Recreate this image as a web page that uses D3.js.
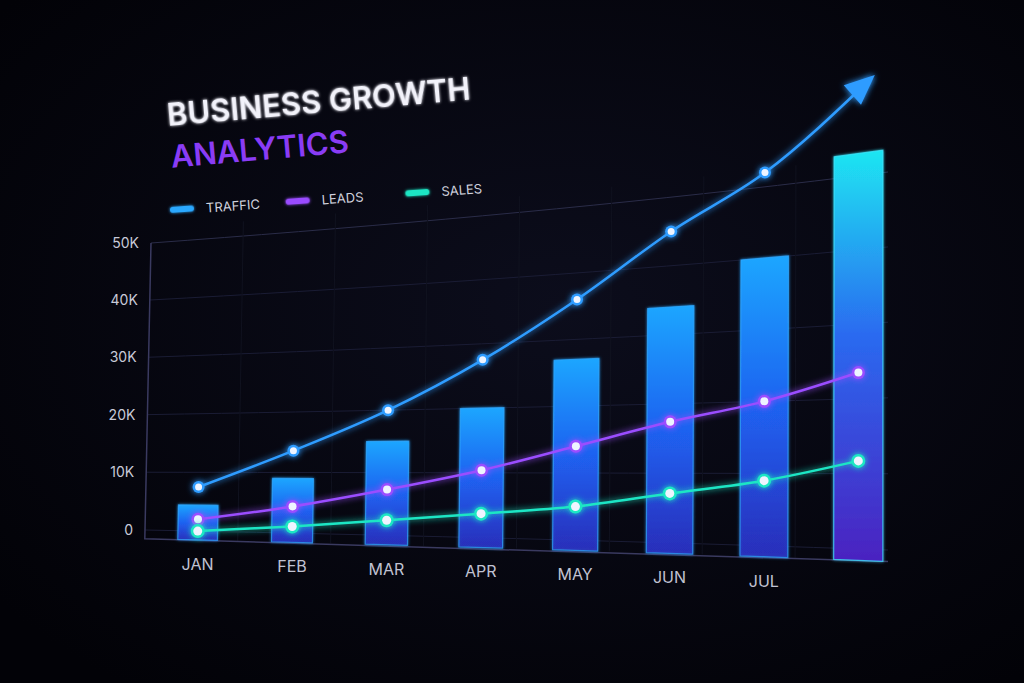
<!DOCTYPE html>
<html><head><meta charset="utf-8">
<script src="https://cdn.jsdelivr.net/npm/d3@7"></script>
<style>html,body{margin:0;background:#04050b;}svg{display:block}</style>
</head><body>
<script>
const months = ["JAN","FEB","MAR","APR","MAY","JUN","JUL","AUG"];
const monthLabels = ["JAN","FEB","MAR","APR","MAY","JUN","JUL",""];
const barValues = [4.4,9,15,20,27,34,40,53];
const traffic = [7.5,13.6,20,27.5,36,45,52];
const trafficArrow = 63;
const leads = [2,4.4,7.3,10.4,14,17.4,20,23.5];
const sales = [0,1.1,2.4,3.7,5,7.1,9,11.7];
const ticks = [0,10,20,30,40,50];
const tickLabels = ["0","10K","20K","30K","40K","50K"];
const legend = [["TRAFFIC","#2aa8ff"],["LEADS","#9a4cff"],["SALES","#1de6c4"]];

const W=1024,H=683;
const svg=d3.select("body").append("svg").attr("width",W).attr("height",H);
const defs=svg.append("defs");
const bg=defs.append("radialGradient").attr("id","bg").attr("cx","55%").attr("cy","45%").attr("r","70%");
bg.append("stop").attr("offset","0").attr("stop-color","#0c0d1c");
bg.append("stop").attr("offset","1").attr("stop-color","#020207");
svg.append("rect").attr("width",W).attr("height",H).attr("fill","url(#bg)");
function glow(id,s){const f=defs.append("filter").attr("id",id).attr("filterUnits","userSpaceOnUse").attr("x",-W).attr("y",-H).attr("width",3*W).attr("height",3*H);
 f.append("feGaussianBlur").attr("stdDeviation",s).attr("result","b");
 const m=f.append("feMerge");m.append("feMergeNode").attr("in","b");m.append("feMergeNode").attr("in","SourceGraphic");}
glow("g1",3);glow("g3",1.5);
const bgr=defs.append("linearGradient").attr("id","bar").attr("x1",0).attr("y1",0).attr("x2",0).attr("y2",1);
bgr.append("stop").attr("offset","0").attr("stop-color","#1aa6ff");
bgr.append("stop").attr("offset","0.5").attr("stop-color","#1e62f0");
bgr.append("stop").attr("offset","1").attr("stop-color","#2a2fc0").attr("stop-opacity",0.8);
const bgl=defs.append("linearGradient").attr("id","barL").attr("x1",0).attr("y1",0).attr("x2",0).attr("y2",1);
bgl.append("stop").attr("offset","0").attr("stop-color","#1ee6f2");
bgl.append("stop").attr("offset","0.45").attr("stop-color","#2a6af0");
bgl.append("stop").attr("offset","1").attr("stop-color","#4a22c0");

const P0=[145,530],P1=[888,550],P2=[888,172],P3=[151,243];
const dx1=P1[0]-P2[0],dx2=P3[0]-P2[0],dx3=P0[0]-P1[0]+P2[0]-P3[0];
const dy1=P1[1]-P2[1],dy2=P3[1]-P2[1],dy3=P0[1]-P1[1]+P2[1]-P3[1];
const den=dx1*dy2-dx2*dy1;
const g=(dx3*dy2-dx2*dy3)/den,h=(dx1*dy3-dx3*dy1)/den;
const d=P1[1]-P0[1]+g*P1[1],e=P3[1]-P0[1]+h*P3[1],f=P0[1];
function proj(u,v){const w=g*u+h*v+1;return [145+u*743+6*v*(1-u),(d*u+e*v+f)/w];}

const x=d3.scalePoint().domain(months).range([0.071,0.96]);
const bw=0.058;
const y=d3.scaleLinear().domain([0,50]).range([0,1]);
const cx=i=>x(months[i]);
const floor=-0.03;

const grid=svg.append("g");
ticks.forEach((t,i)=>{
  const pts=d3.range(0,1.001,0.05).map(u=>proj(u,y(t)));
  grid.append("path").attr("d",d3.line()(pts)).attr("fill","none")
   .attr("stroke",i==5?"#2a2c48":"#1a1c34").attr("stroke-width",1);
  const p=proj(0,y(t));
  grid.append("text").attr("x",p[0]-12).attr("y",p[1]).attr("text-anchor","end")
   .attr("fill","#c8cad8").attr("font-family","Inter, sans-serif").attr("font-size",14).attr("dy","0.35em").text(tickLabels[i]);
});
for(let k=1;k<8;k++){const u=k/8;grid.append("path").attr("d",d3.line()([proj(u,floor),proj(u,1.05)])).attr("stroke","#10121f").attr("fill","none");}
grid.append("path").attr("d",d3.line()([proj(0,1),proj(0,floor),proj(1,floor)])).attr("fill","none").attr("stroke","#3a3a60").attr("stroke-width",1.5);

months.forEach((m,i)=>{
  const w=bw*(0.9+0.25*x(m));
  const u0=x(m)-w/2,u1=x(m)+w/2,v=y(barValues[i]);
  const pts=[proj(u0,floor),proj(u0,v),proj(u1,v),proj(u1,floor)];
  svg.append("path").attr("d",d3.line()(pts)+"Z").attr("fill",i==7?"url(#barL)":"url(#bar)")
   .attr("stroke",i==7?"#40e8ff":"#30a8ff").attr("stroke-opacity",0.7).attr("stroke-width",1.2).attr("filter","url(#g3)");
});

function series(vals,color,r,extra){
  const pts=vals.map((v,i)=>proj(cx(i),y(v)));
  if(extra) pts.push(extra);
  const gg=svg.append("g");
  gg.append("path").attr("d",d3.line().curve(d3.curveMonotoneX)(pts)).attr("fill","none").attr("stroke",color).attr("stroke-width",2.5).attr("filter","url(#g1)");
  vals.forEach((v,i)=>{const p=pts[i];
    gg.append("circle").attr("cx",p[0]).attr("cy",p[1]).attr("r",r+2.5).attr("fill",color).attr("filter","url(#g1)");
    gg.append("circle").attr("cx",p[0]).attr("cy",p[1]).attr("r",r).attr("fill","#eef4ff");});
  return pts;
}
const tip=proj(cx(7)+0.018,y(trafficArrow));
const tp=series(traffic,"#2f9cff",3.5,tip);
series(leads,"#9b4dff",4);
series(sales,"#1de6c4",4.5);
const prev=tp[tp.length-2],ang=Math.atan2(tip[1]-prev[1],tip[0]-prev[0]);
const L=26,Wd=13;
const ah=[[tip[0]+Math.cos(ang)*4,tip[1]+Math.sin(ang)*4],
 [tip[0]-Math.cos(ang)*L+Math.sin(ang)*Wd,tip[1]-Math.sin(ang)*L-Math.cos(ang)*Wd],
 [tip[0]-Math.cos(ang)*L-Math.sin(ang)*Wd,tip[1]-Math.sin(ang)*L+Math.cos(ang)*Wd]];
svg.append("path").attr("d",d3.line()(ah)+"Z").attr("fill","#2f9cff").attr("filter","url(#g1)");

monthLabels.forEach((m,i)=>{const p=proj(cx(i),floor);
  svg.append("text").attr("x",p[0]).attr("y",p[1]+30).attr("text-anchor","middle").attr("fill","#c0c2d2")
   .attr("font-family","Inter, sans-serif").attr("font-size",16).text(m);});

const tg=svg.append("g").attr("transform","translate(168,126) rotate(-5)");
tg.append("text").attr("fill","#f2f2fa").attr("font-family","Inter, sans-serif").attr("font-weight",600).attr("font-size",31).attr("filter","url(#g3)").text("BUSINESS GROWTH");
tg.append("text").attr("y",42).attr("fill","#8a3cf5").attr("font-family","Inter, sans-serif").attr("font-weight",600).attr("font-size",31).text("ANALYTICS");
const lg=svg.append("g").attr("transform","translate(170,210) rotate(-4)");
[0,116,236].forEach((ox,i)=>{
  lg.append("rect").attr("x",ox).attr("y",-3).attr("width",24).attr("height",6).attr("rx",3).attr("fill",legend[i][1]).attr("filter","url(#g3)");
  lg.append("text").attr("x",ox+36).attr("y",5).attr("fill","#d0d2de").attr("font-family","Inter, sans-serif").attr("font-size",13).text(legend[i][0]);
});
</script>
</body></html>
